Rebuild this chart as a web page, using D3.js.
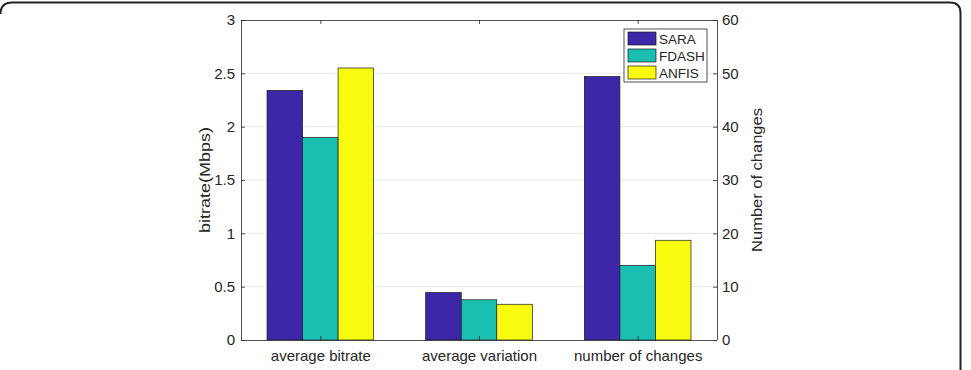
<!DOCTYPE html>
<html>
<head>
<meta charset="utf-8">
<title>Bitrate comparison</title>
<script src="https://d3js.org/d3.v7.min.js"></script>
<style>
  body { margin: 0; background: #fff; }
  svg text { font-family: "Liberation Sans", Arial, Helvetica, sans-serif; }
</style>
</head>
<body>
<svg id="chart" width="971" height="370"></svg>
<script>
// data
var categories = ["average bitrate", "average variation", "number of changes"];
var seriesNames = ["SARA", "FDASH", "ANFIS"];
var seriesColors = ["#3e26a8", "#1bbfb1", "#f9fb0e"];
// first two groups use left axis (Mbps), last group uses right axis (count)
var sara  = [2.34, 0.445, 49.4];
var fdash = [1.9, 0.377, 14.0];
var anfis = [2.55, 0.335, 18.7];
var leftTicks = [0, 0.5, 1, 1.5, 2, 2.5, 3];
var rightTicks = [0, 10, 20, 30, 40, 50, 60];

var values = [sara, fdash, anfis];

var svg = d3.select("#chart");

// frame around the figure (rounded corner)
svg.append("path")
  .attr("d", "M0.5,14 Q0.5,2.5 12,2.5 L950,2.5 Q960.5,2.5 960.5,13 L960.5,372")
  .attr("fill", "none")
  .attr("stroke", "#222")
  .attr("stroke-width", 2);

// note: "top" is reserved on window, so use plot* names
var plotLeft = 241, plotRight = 717, plotTop = 20, plotBottom = 340;

var yL = d3.scaleLinear().domain([0, 3]).range([plotBottom, plotTop]);
var yR = d3.scaleLinear().domain([0, 60]).range([plotBottom, plotTop]);
// continuous x like matlab: groups at 1,2,3 in [0.5,3.5]
var x = d3.scaleLinear().domain([0.5, 3.5]).range([plotLeft, plotRight]);
var barW = 0.224;

// grid lines
svg.append("g").selectAll("line")
  .data(leftTicks.slice(1, -1))
  .enter().append("line")
  .attr("x1", plotLeft).attr("x2", plotRight)
  .attr("y1", function(d) { return yL(d); })
  .attr("y2", function(d) { return yL(d); })
  .attr("stroke", "#e6e6e6")
  .attr("stroke-width", 1);

// bars
for (var s = 0; s < seriesNames.length; s++) {
  svg.append("g").selectAll("rect")
    .data(values[s])
    .enter().append("rect")
    .attr("x", function(d, i) { return x(i + 1 + (s - 1) * barW - barW / 2); })
    .attr("width", x(barW) - x(0))
    .attr("y", function(d, i) { return i == 2 ? yR(d) : yL(d); })
    .attr("height", function(d, i) { return plotBottom - (i == 2 ? yR(d) : yL(d)); })
    .attr("fill", seriesColors[s])
    .attr("stroke", "#1a1a1a")
    .attr("stroke-width", 0.7);
}

// left axis
var axL = svg.append("g")
  .attr("transform", "translate(" + plotLeft + ",0)")
  .call(d3.axisLeft(yL).tickValues(leftTicks).tickSize(-4).tickPadding(6).tickFormat(d3.format("")));
// right axis
var axR = svg.append("g")
  .attr("transform", "translate(" + plotRight + ",0)")
  .call(d3.axisRight(yR).tickValues(rightTicks).tickSize(-4).tickPadding(5));
// bottom axis
var axB = svg.append("g")
  .attr("transform", "translate(0," + plotBottom + ")")
  .call(d3.axisBottom(x).tickValues([1, 2, 3]).tickSize(-4).tickPadding(10)
    .tickFormat(function(d) { return categories[d - 1]; }));
// top line with ticks
var axT = svg.append("g")
  .attr("transform", "translate(0," + plotTop + ")")
  .call(d3.axisTop(x).tickValues([1, 2, 3]).tickSize(-4).tickFormat(""));

[axL, axR, axB, axT].forEach(function(a) {
  a.select(".domain").attr("stroke", "#262626").attr("stroke-width", 0.8);
  a.selectAll(".tick line").attr("stroke", "#262626").attr("stroke-width", 0.8);
  a.selectAll(".tick text").attr("fill", "#262626").style("font-size", "15px");
});
axL.select(".domain").attr("d", "M0.5," + plotTop + "V" + plotBottom);
axR.select(".domain").attr("d", "M0.5," + plotTop + "V" + plotBottom);
axB.select(".domain").attr("d", "M" + plotLeft + ",0.5H" + plotRight);
axT.select(".domain").attr("d", "M" + plotLeft + ",0.5H" + plotRight);

// axis labels (a bit stretched along the text, like the source)
svg.append("text")
  .attr("transform", "translate(210," + (plotTop + plotBottom) / 2 + ")rotate(-90)scale(1.2,1)")
  .attr("text-anchor", "middle")
  .attr("fill", "#262626")
  .style("font-size", "15px")
  .text("bitrate(Mbps)");
svg.append("text")
  .attr("transform", "translate(762," + (plotTop + plotBottom) / 2 + ")rotate(-90)scale(1.1,1)")
  .attr("text-anchor", "middle")
  .attr("fill", "#262626")
  .style("font-size", "15px")
  .text("Number of changes");

// legend
var lg = svg.append("g").attr("transform", "translate(624,29)");
lg.append("rect")
  .attr("width", 83).attr("height", 53)
  .attr("fill", "#fff").attr("stroke", "#262626").attr("stroke-width", 0.8);
seriesNames.forEach(function(name, i) {
  lg.append("rect")
    .attr("x", 4).attr("y", 3 + i * 17)
    .attr("width", 28).attr("height", 13)
    .attr("fill", seriesColors[i])
    .attr("stroke", "#1a1a1a").attr("stroke-width", 0.7);
  lg.append("text")
    .attr("x", 35).attr("y", 15 + i * 17)
    .attr("fill", "#262626")
    .style("font-size", "13.5px")
    .text(name);
});
</script>
</body>
</html>
